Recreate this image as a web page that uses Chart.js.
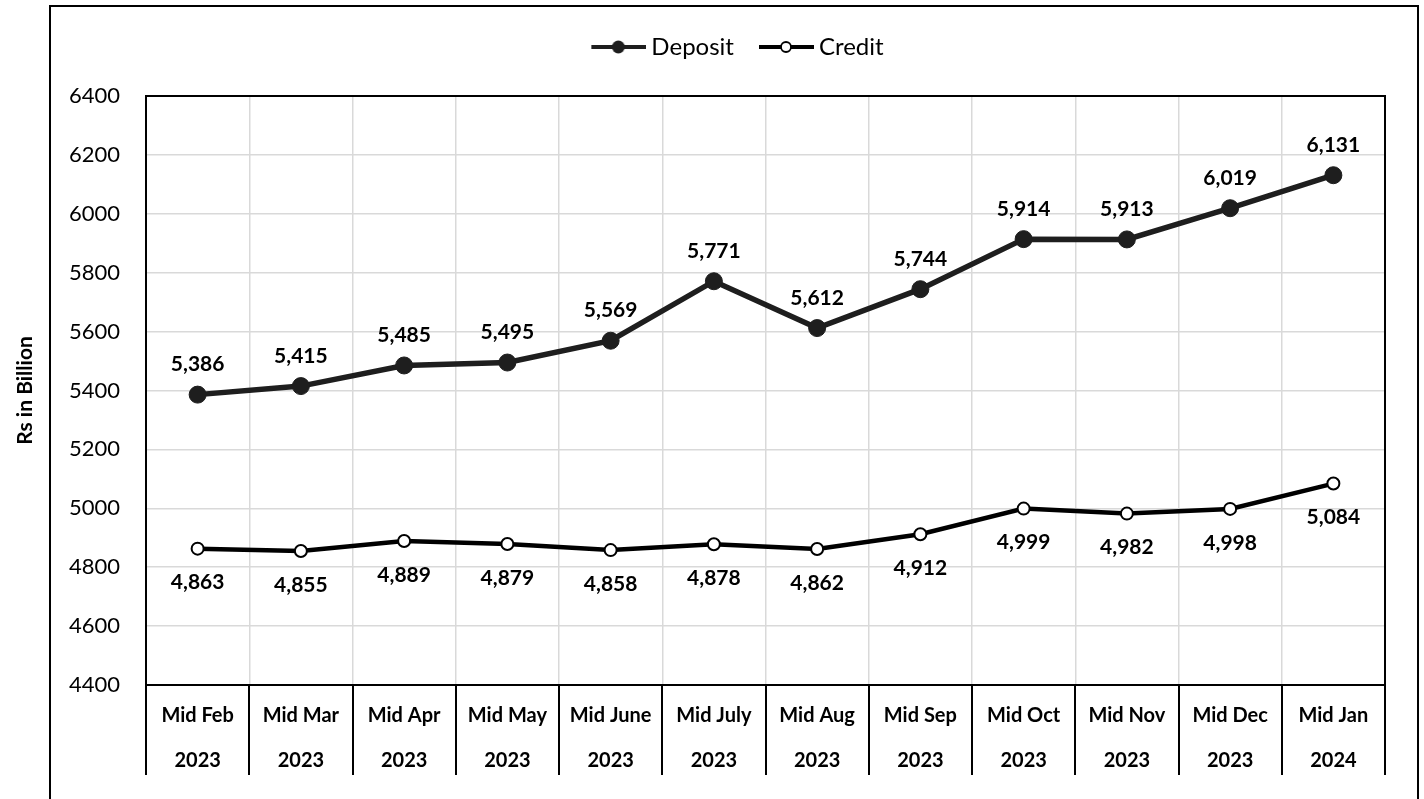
<!DOCTYPE html>
<html>
<head>
<meta charset="utf-8">
<script src="https://cdn.jsdelivr.net/npm/chart.js@4"></script>
<style>
  html, body { margin: 0; padding: 0; background: #fff; }
  #wrap { width: 1424px; height: 799px; position: relative; }
</style>
</head>
<body>
<div id="wrap"><canvas id="depositChart"></canvas></div>
<script>
// categories and values
const months = ['Mid Feb', 'Mid Mar', 'Mid Apr', 'Mid May', 'Mid June', 'Mid July',
                'Mid Aug', 'Mid Sep', 'Mid Oct', 'Mid Nov', 'Mid Dec', 'Mid Jan'];
const years = ['2023', '2023', '2023', '2023', '2023', '2023',
               '2023', '2023', '2023', '2023', '2023', '2024'];
const deposit = [5386, 5415, 5485, 5495, 5569, 5771, 5612, 5744, 5914, 5913, 6019, 6131];
const credit = [4863, 4855, 4889, 4879, 4858, 4878, 4862, 4912, 4999, 4982, 4998, 5084];
const yMin = 4400, yMax = 6400, yStep = 200;

const FONT = 'Lato';
const DARK = '#1e1e1e';
const TOP_PAD = 10;

// little legend icons: line with a marker on it
function legendIcon(filled) {
    const c = document.createElement('canvas');
    c.width = 62; c.height = 22;
    const g = c.getContext('2d');
    g.strokeStyle = filled ? DARK : '#000';
    g.lineWidth = 4;
    g.beginPath(); g.moveTo(7, 11); g.lineTo(62, 11); g.stroke();
    g.beginPath();
    if (filled) {
        g.fillStyle = DARK;
        g.arc(34, 11, 6.5, 0, Math.PI * 2); g.fill();
    } else {
        g.fillStyle = '#fff';
        g.lineWidth = 1.8;
        g.arc(34, 11, 5, 0, Math.PI * 2); g.fill(); g.stroke();
    }
    return c;
}
const icons = [legendIcon(true), legendIcon(false)];

// frame, plot border, separators under the x axis and the value labels
const decor = {
    id: 'decor',
    beforeLayout(chart) {
        const lg = chart.legend;
        if (lg && !lg._extra) {
            lg._extra = true;
            const fit = lg.fit;
            lg.fit = function () { fit.call(this); this.height = 96 - TOP_PAD; };
        }
    },
    afterLayout(chart) {
        // centre the legend on the outer frame rather than the canvas
        if (chart.legend) chart.legend.left = 90;
    },
    beforeDraw(chart) {
        const c = chart.ctx;
        c.save();
        c.strokeStyle = '#000';
        c.lineWidth = 2;
        c.strokeRect(50, 6, 1368, 900);
        c.restore();
    },
    beforeDatasetsDraw(chart) {
        const c = chart.ctx, a = chart.chartArea, x = chart.scales.x;
        c.save();
        c.strokeStyle = '#000';
        c.lineWidth = 2;
        c.strokeRect(a.left, a.top, a.right - a.left, a.bottom - a.top);
        const half = (x.getPixelForValue(1) - x.getPixelForValue(0)) / 2;
        c.beginPath();
        for (let i = 0; i <= months.length; i++) {
            const px = Math.round(x.getPixelForValue(i) - half);
            c.moveTo(px, a.bottom);
            c.lineTo(px, a.bottom + 90);
        }
        c.stroke();
        c.restore();
    },
    afterDatasetsDraw(chart) {
        const c = chart.ctx;
        c.save();
        c.font = 'bold 21px ' + FONT;
        c.fillStyle = '#000';
        c.textAlign = 'center';
        c.textBaseline = 'middle';
        chart.data.datasets.forEach((ds, di) => {
            const meta = chart.getDatasetMeta(di);
            meta.data.forEach((pt, i) => {
                const dy = di === 0 ? -30 : 34;
                c.fillText(ds.data[i].toLocaleString('en-US'), pt.x, pt.y + dy);
            });
        });
        c.restore();
    }
};

new Chart(document.getElementById('depositChart'), {
    type: 'line',
    data: {
        labels: months.map((m, i) => [m, years[i]]),
        datasets: [{
            label: 'Deposit',
            data: deposit,
            borderColor: DARK,
            borderWidth: 5.5,
            pointRadius: 8.5,
            pointBackgroundColor: DARK,
            pointBorderColor: DARK,
            pointBorderWidth: 1,
            pointStyle: 'circle',
            tension: 0
        }, {
            label: 'Credit',
            data: credit,
            borderColor: '#000',
            borderWidth: 4.5,
            pointRadius: 6,
            pointBackgroundColor: '#fff',
            pointBorderColor: '#000',
            pointBorderWidth: 2,
            tension: 0
        }]
    },
    options: {
        responsive: true,
        maintainAspectRatio: false,
        animation: false,
        layout: { padding: { top: TOP_PAD, right: 39, bottom: 24, left: 0 } },
        plugins: {
            legend: {
                position: 'top',
                labels: {
                    usePointStyle: true,
                    pointStyleWidth: 48,
                    padding: 25,
                    color: '#000',
                    font: { family: FONT, size: 24 },
                    generateLabels: (chart) => chart.data.datasets.map((ds, i) => ({
                        text: ds.label,
                        pointStyle: icons[i],
                        fillStyle: 'transparent',
                        strokeStyle: 'transparent',
                        lineWidth: 0,
                        datasetIndex: i
                    }))
                }
            },
            tooltip: { enabled: false }
        },
        scales: {
            x: {
                offset: true,
                grid: { offset: true, color: '#d9d9d9', lineWidth: 1.5, drawTicks: false },
                border: { display: false },
                ticks: {
                    color: '#000',
                    padding: 8.5,
                    maxRotation: 0,
                    autoSkip: false,
                    font: { family: FONT, size: 20, weight: 'bold', lineHeight: '45px' }
                },
                afterFit(scale) { scale.height = 90; }
            },
            y: {
                min: yMin,
                max: yMax,
                grid: { color: '#d9d9d9', lineWidth: 1.5, drawTicks: false },
                border: { display: false },
                ticks: {
                    stepSize: yStep,
                    padding: 26,
                    color: '#000',
                    font: { family: FONT, size: 22 },
                    callback: (v) => String(v)
                },
                title: {
                    display: true,
                    text: 'Rs in Billion',
                    color: '#000',
                    padding: { top: 13, bottom: 0 },
                    font: { family: FONT, size: 21, weight: 'bold' }
                },
                afterFit(scale) { scale.width = 146; }
            }
        }
    },
    plugins: [decor]
});
</script>
</body>
</html>
